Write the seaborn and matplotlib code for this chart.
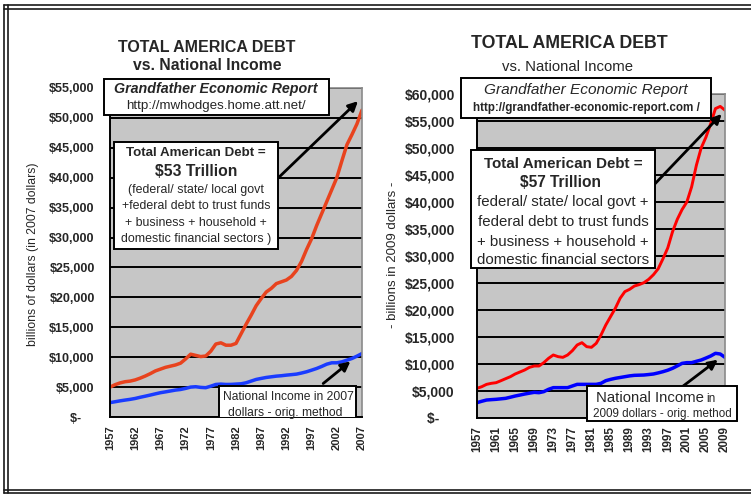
import matplotlib
matplotlib.use("Agg")
import matplotlib.pyplot as plt
import matplotlib.patches as mpatches
from matplotlib.lines import Line2D
from matplotlib.ticker import FuncFormatter
import seaborn as sns
import pandas as pd

# ---------------- data ----------------
years_left = list(range(1957, 2008))
debt_2007 = [5000, 5400, 5700, 5900, 6000, 6200, 6500, 6850, 7250, 7700,
             8000, 8300, 8500, 8700, 9000, 9700, 10500, 10300, 10100, 10200,
             11000, 12200, 12400, 12000, 12000, 12300, 13900, 15500, 17000, 18600,
             19800, 20900, 21500, 22300, 22600, 22900, 23500, 24500, 26000, 28000,
             29800, 32000, 34000, 36000, 38000, 40000, 42800, 45500, 47200, 49000,
             51300]
income_2007 = [2400, 2550, 2700, 2830, 2950, 3100, 3300, 3480, 3670, 3870,
               4060, 4200, 4350, 4500, 4600, 4780, 5000, 5060, 4950, 4900,
               5150, 5440, 5500, 5440, 5450, 5500, 5550, 5720, 6000, 6280,
               6450, 6610, 6720, 6830, 6900, 7000, 7080, 7170, 7350, 7560,
               7830, 8110, 8450, 8830, 9060, 9060, 9220, 9500, 9780, 10170,
               10610]

years_right = list(range(1957, 2010))
debt_2009 = [5500, 5800, 6230, 6420, 6540, 6900, 7280, 7650, 8150, 8520,
             8890, 9380, 9630, 9630, 10250, 11050, 11670, 11360, 11230, 11670,
             12470, 13520, 13950, 13210, 13090, 13830, 15370, 17220, 18770, 20310,
             22160, 23400, 23830, 24440, 24700, 25060, 25680, 26540, 27650, 29500,
             31500, 34500, 36800, 38600, 40000, 42800, 46800, 50000, 52000, 54500,
             57300, 57700, 57000]
income_2009 = [2840, 3100, 3330, 3400, 3460, 3550, 3640, 3850, 4070, 4250,
               4440, 4600, 4750, 4690, 4880, 5310, 5620, 5620, 5620, 5620,
               5930, 6230, 6230, 6230, 6230, 6230, 6420, 6910, 7150, 7350,
               7500, 7650, 7800, 7900, 7930, 7960, 8050, 8150, 8350, 8580,
               8850, 9200, 9650, 10120, 10250, 10250, 10500, 10740, 11100, 11480,
               11980, 11850, 11230]

left_tick_years = list(range(1957, 2008, 5))
right_tick_years = list(range(1957, 2010, 4))

# ---------------- style ----------------
sns.set_style("white")
plt.rcParams['font.family'] = ['Liberation Sans', 'DejaVu Sans']

W, H = 751, 495
fig = plt.figure(figsize=(W / 100, H / 100), dpi=100)
fig.patch.set_facecolor('white')


def fx(x):
    return x / W


def fy(y):
    return 1 - y / H


def money(v, pos=None):
    if v == 0:
        return '$-    '
    return '${:,.0f}'.format(v)


def make_axes(px_left, px_right, px_top, px_bottom):
    return fig.add_axes([fx(px_left), fy(px_bottom),
                         (px_right - px_left) / W, (px_bottom - px_top) / H])


def style_axes(ax, years, ymax, tick_years, ylab_size, xlab_size, ypad):
    ax.set_facecolor('#c6c6c6')
    ax.set_xlim(years[0], years[-1])
    ax.set_ylim(0, ymax)
    ax.set_yticks(range(0, ymax + 1, 5000))
    ax.yaxis.set_major_formatter(FuncFormatter(money))
    ax.set_xticks(years)
    ax.set_xticklabels([str(y) if y in tick_years else '' for y in years],
                       rotation=90)
    ax.yaxis.grid(True, color='black', lw=1.4)
    ax.xaxis.grid(False)
    ax.set_axisbelow(True)
    ax.tick_params(axis='x', direction='inout', length=6, width=1,
                   color='black', labelsize=xlab_size, pad=3)
    ax.tick_params(axis='y', direction='out', length=4, width=1.2,
                   color='black', labelsize=ylab_size, pad=ypad)
    for lab in ax.get_xticklabels() + ax.get_yticklabels():
        lab.set_fontweight('bold')
    for s in ['left', 'bottom']:
        ax.spines[s].set_color('black')
        ax.spines[s].set_linewidth(1.4)
    for s in ['top', 'right']:
        ax.spines[s].set_color('#8a8a8a')
        ax.spines[s].set_linewidth(1.2)
    ax.set_xlabel('')


def box(x0, y0, x1, y1, ax=None):
    r = mpatches.Rectangle((fx(x0), fy(y1)), (x1 - x0) / W, (y1 - y0) / H,
                           transform=fig.transFigure, facecolor='white',
                           edgecolor='black', lw=1.4, zorder=5)
    if ax is None:
        fig.add_artist(r)
    else:
        ax.add_patch(r)
    return r


def txt(x, y, s, size, weight='normal', style='normal', ax=None, **kw):
    if ax is None:
        return fig.text(fx(x), fy(y), s, ha='center', va='center',
                        fontsize=size, fontweight=weight, fontstyle=style,
                        zorder=6, **kw)
    t = ax.text(fx(x), fy(y), s, ha='center', va='center', fontsize=size,
                fontweight=weight, fontstyle=style, transform=fig.transFigure,
                zorder=6, **kw)
    t.set_clip_path(ax.patch)
    return t


arrow_kw = dict(arrowstyle='-|>', color='black', lw=2.0, mutation_scale=14,
                shrinkA=0, shrinkB=0)

# ---------------- left chart ----------------
axL = make_axes(110, 362, 88, 417)
dfL = pd.DataFrame({'year': years_left, 'debt': debt_2007, 'income': income_2007})
sns.lineplot(data=dfL, x='year', y='debt', ax=axL, color='#e8431e', lw=2.5)
sns.lineplot(data=dfL, x='year', y='income', ax=axL, color='#1a3cff', lw=2.5)
style_axes(axL, years_left, 55000, left_tick_years, 9, 8, 7)
axL.set_ylabel('billions of dollars (in 2007 dollars)', fontsize=8.8,
               va='center', ha='center')
axL.yaxis.set_label_coords((33 - 110) / 252, (417 - 254) / 329)

axL.annotate('', xy=(2006.2, 52800), xytext=(1990.3, 39900),
             arrowprops=arrow_kw, zorder=7)
axL.annotate('', xy=(2004.7, 9300), xytext=(1999.3, 5600),
             arrowprops=arrow_kw, zorder=7)

txt(207, 47, 'TOTAL AMERICA DEBT', 11.5, 'bold')
txt(207, 66, 'vs. National Income', 11.3, 'bold')

box(104, 79, 329, 115)
txt(216, 89, 'Grandfather Economic Report', 10.3, 'bold', 'italic')
txt(216, 106, 'http://mwhodges.home.att.net/', 9.6)

box(114, 142, 278, 249)
txt(196, 153, 'Total American Debt =', 9.6, 'bold')
txt(196, 171, '$53 Trillion', 11.3, 'bold')
txt(196, 190, '(federal/ state/ local govt', 8.9)
txt(196, 206, '+federal debt to trust funds', 8.9)
txt(196, 223, '+ business + household +', 8.9)
txt(196, 239, 'domestic financial sectors )', 8.9)

box(219, 386, 356, 432, ax=axL)
txt(288, 397, 'National Income in 2007', 8.7, ax=axL)
txt(285, 413, 'dollars - orig. method', 8.7, ax=axL)

# ---------------- right chart ----------------
axR = make_axes(477, 725, 94, 418)
dfR = pd.DataFrame({'year': years_right, 'debt': debt_2009, 'income': income_2009})
sns.lineplot(data=dfR, x='year', y='debt', ax=axR, color='#ff0000', lw=2.1)
sns.lineplot(data=dfR, x='year', y='income', ax=axR, color='#0000ff', lw=2.5)
style_axes(axR, years_right, 60000, right_tick_years, 10, 8.4, 12)
axR.set_ylabel('- billions in 2009 dollars -', fontsize=9.5,
               va='center', ha='center')
axR.yaxis.set_label_coords((393 - 477) / 248, (418 - 255) / 324)

axR.annotate('', xy=(2008.3, 56300), xytext=(1993.7, 42800),
             arrowprops=arrow_kw, zorder=7)
axR.annotate('', xy=(2007.5, 10800), xytext=(2000.2, 5900),
             arrowprops=arrow_kw, zorder=7)

txt(569, 43, 'TOTAL AMERICA DEBT', 12.8, 'bold')
txt(568, 67, 'vs. National Income', 10.7)

box(461, 78, 711, 118)
txt(586, 90, 'Grandfather Economic Report', 11.1, style='italic')
txt(586, 108, 'http://grandfather-economic-report.com /', 8.4, 'bold')

box(471, 150, 655, 268)
txt(563, 164, 'Total American Debt =', 10.9, 'bold')
txt(560, 183, '$57 Trillion', 11.2, 'bold')
txt(563, 202, 'federal/ state/ local govt +', 10.8)
txt(563, 222, 'federal debt to trust funds', 10.8)
txt(563, 242, '+ business + household +', 10.8)
txt(563, 260, 'domestic financial sectors', 10.8)

box(587, 386, 737, 421)
fig.text(fx(596), fy(398), 'National Income', fontsize=10.7, ha='left',
         va='center', zorder=6)
fig.text(fx(706), fy(399), 'in', fontsize=8.5, ha='left', va='center', zorder=6)
txt(662, 414, '2009 dollars - orig. method', 8.4)

# ---------------- outer frame ----------------
frame_kw = dict(color='#1a1a1a', lw=1.2, transform=fig.transFigure)
for yy in (4.5, 8.5):
    fig.add_artist(Line2D([fx(4), fx(751)], [fy(yy), fy(yy)], **frame_kw))
for yy in (489.5, 493):
    fig.add_artist(Line2D([fx(4), fx(751)], [fy(yy), fy(yy)], **frame_kw))
for xx in (4, 8):
    fig.add_artist(Line2D([fx(xx), fx(xx)], [fy(4.5), fy(493)], **frame_kw))

fig.savefig('out.png', dpi=100)
